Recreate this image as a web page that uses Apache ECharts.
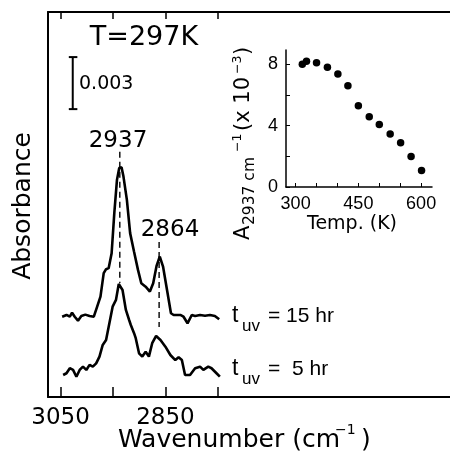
<!DOCTYPE html>
<html><head><meta charset="utf-8">
<script src="https://cdn.jsdelivr.net/npm/echarts@6/dist/echarts.min.js"></script>
<style>html,body{margin:0;padding:0;background:#fff}#c{width:450px;height:452px}</style>
</head><body><div id="c"></div>
<script>
// Main spectra: wavenumber (cm^-1) and absorbance (units of 0.001)
const wn15=[3047,3038.7,3032.4,3028.1,3023.0,3016.8,3010.4,3002.8,2994.7,2986.6,2980.2,2973.9,2967.7,2963.2,2958.3,2952.6,2947.5,2942.4,2938.1,2933.7,2930.0,2923.5,2917.3,2909.8,2902.3,2896.0,2887.7,2879.6,2873.3,2866.9,2860.7,2854.5,2846.9,2839.4,2834.3,2821.6,2815.4,2807.8,2799.7,2793.3,2783.9,2774.4,2765.0,2755.6,2747.4];
const abs15=[4.63,4.73,4.63,4.86,4.63,4.40,4.67,4.75,4.67,4.63,5.21,5.79,7.14,7.37,7.43,8.29,10.60,12.52,13.20,13.25,12.71,11.37,9.45,8.38,7.33,6.56,6.36,6.08,6.56,7.56,8.10,7.52,6.17,4.83,4.73,4.73,4.63,4.25,4.73,4.67,4.73,4.69,4.73,4.67,4.48];
const wn5=[3045.1,3038.7,3032.4,3026.2,3019.8,3013.6,3007.3,3000.9,2994.7,2988.5,2982.1,2975.8,2969.6,2963.2,2956.9,2950.7,2944.3,2939.0,2931.8,2925.4,2919.2,2916.0,2909.8,2906.6,2900.3,2894.1,2887.7,2881.5,2875.2,2867.7,2859.4,2850.0,2840.5,2831.1,2824.8,2818.6,2812.5,2803.0,2793.3,2783.9,2777.6,2768.2,2762.0,2752.5,2746.1];
const abs5=[1.27,1.37,1.66,1.56,1.17,1.56,1.75,1.56,1.85,1.75,1.94,2.33,3.00,3.29,4.25,5.21,5.60,6.52,6.17,5.02,4.44,4.15,3.68,3.39,2.52,2.33,2.61,2.33,3.10,3.52,3.29,2.90,2.42,2.13,2.29,2.13,1.27,1.27,1.66,1.75,1.56,1.75,1.66,1.37,1.17];
const mainTicks=[3050,2950,2850,2750];
const mainLabels=[3050,2850];
// peak marker lines [wavenumber, top, bottom]
const peakLines=[[2937,14.14,6.58],[2862,8.94,4.04]];
// scale bar (0.003 absorbance = 3 units)
const scaleBarX=3026.8, scaleBarLo=16.6, scaleBarHi=19.6, scaleSerif=[3034.3,3018.0];
// Inset
const temps=[316,326,350,376,401,425,450,476,500,526,551,576,601];
const a2937=[8.0,8.2,8.1,7.8,7.36,6.6,5.3,4.58,4.08,3.45,2.88,1.99,1.07];
const insetXTicks=[300,350,400,450,500,550,600];
const insetXLabels=[300,450,600];
const insetYTicks=[0,2,4,6,8];
const insetYLabels=[0,4,8];

const F='DejaVu Sans';
const N='"Liberation Sans Narrow","Liberation Sans",sans-serif';
function T(x,y,text,size,align,fam,rot){
  return {type:'text',x:x,y:y,rotation:rot||0,style:{text:text,fontSize:size,fontFamily:fam||F,fill:'#000',align:align||'left',verticalAlign:'middle',textAlign:align||'left',textVerticalAlign:'middle'}};
}
const zip=(a,b)=>a.map((v,i)=>[v,b[i]]);
const fmt=v=>String(v);
const blk='#000';
function seg(data,width,dash){
  return {type:'line',xAxisIndex:0,yAxisIndex:0,data:data,symbol:'none',silent:true,
          lineStyle:{color:blk,width:width,type:dash||'solid'},z:2};
}
const chart=echarts.init(document.getElementById('c'),null,{renderer:'canvas'});
const series=[
  {type:'line',xAxisIndex:0,yAxisIndex:0,data:zip(wn15,abs15),symbol:'none',lineStyle:{color:blk,width:2.6},z:3},
  {type:'line',xAxisIndex:0,yAxisIndex:0,data:zip(wn5,abs5),symbol:'none',lineStyle:{color:blk,width:2.6},z:3}
];
peakLines.forEach(p=>series.push(seg([[p[0],p[1]],[p[0],p[2]]],1.4,[6,4])));
series.push(seg([[scaleBarX,scaleBarLo],[scaleBarX,scaleBarHi]],2));
series.push(seg([[scaleSerif[0],scaleBarLo],[scaleSerif[1],scaleBarLo]],2));
series.push(seg([[scaleSerif[0],scaleBarHi],[scaleSerif[1],scaleBarHi]],2));
series.push({type:'scatter',xAxisIndex:2,yAxisIndex:1,data:zip(temps,a2937),symbol:'circle',symbolSize:7.5,itemStyle:{color:blk,opacity:1}});
const option={
  backgroundColor:'#fff',
  animation:false,
  grid:[{left:48,top:12,right:-4,bottom:55,show:false},{left:286,top:50,width:146,height:137,show:false}],
  xAxis:[
    {gridIndex:0,type:'value',inverse:true,min:2307,max:3074,position:'bottom',
     axisLine:{onZero:false,lineStyle:{color:blk,width:2}},
     axisTick:{inside:true,length:10,lineStyle:{color:blk,width:1.5},customValues:mainTicks},
     axisLabel:{customValues:mainLabels,formatter:fmt,fontSize:23,fontFamily:F,color:blk,margin:10},
     splitLine:{show:false}},
    {gridIndex:0,type:'value',inverse:true,min:2307,max:3074,position:'top',
     axisLine:{onZero:false,lineStyle:{color:blk,width:2}},
     axisTick:{inside:true,length:7,lineStyle:{color:blk,width:1.5},customValues:mainTicks},
     axisLabel:{show:false},splitLine:{show:false}},
    {gridIndex:1,type:'value',min:277,max:626,position:'bottom',
     axisLine:{onZero:false,lineStyle:{color:blk,width:1.5}},
     axisTick:{inside:true,length:4,lineStyle:{color:blk,width:1},customValues:insetXTicks},
     axisLabel:{customValues:insetXLabels,formatter:fmt,fontSize:18,fontFamily:N,color:blk,margin:8},
     splitLine:{show:false}}
  ],
  yAxis:[
    {gridIndex:0,type:'value',min:0,max:22.2,position:'left',
     axisLine:{show:true,onZero:false,lineStyle:{color:blk,width:2}},
     axisTick:{show:false},axisLabel:{show:false},splitLine:{show:false}},
    {gridIndex:1,type:'value',min:0,max:8.93,position:'left',
     axisLine:{show:true,onZero:false,lineStyle:{color:blk,width:1.5}},
     axisTick:{inside:true,length:4,lineStyle:{color:blk,width:1},customValues:insetYTicks},
     axisLabel:{customValues:insetYLabels,formatter:fmt,fontSize:18,fontFamily:N,color:blk,margin:8},
     splitLine:{show:false}}
  ],
  series:series,
  graphic:[
    // the reference frame is open on the right: mask the stray right edge
    {type:'rect',z:100,shape:{x:443,y:14,width:8,height:381},style:{fill:'#fff'},silent:true},
    T(144,38,'T=297K',27,'center'),
    T(79,84,'0.003',19,'left'),
    T(118,141,'2937',23,'center'),
    T(170,230,'2864',23,'center'),
    T(23,206,'Absorbance',25,'center',F,Math.PI/2),
    T(118,440,'Wavenumber (cm',25,'left'),
    T(335,430,'\u22121',14,'left'),
    T(361,440,')',25,'left'),
    T(232,316,'t',23,'left',N),
    T(242,326,'uv',17,'left',N),
    T(268,316,'= 15 hr',21,'left',N),
    T(232,369,'t',23,'left',N),
    T(242,379,'uv',17,'left',N),
    T(268,369,'=  5 hr',21,'left',N),
    T(352,224,'Temp. (K)',19,'center',F),
    {type:'group',x:244,y:240,rotation:Math.PI/2,children:[
      T(0,0,'A',21,'left',F),
      T(15,6,'2937 cm',15.5,'left',F),
      T(88,-6,'\u22121',12.5,'left',F),
      T(109,0,'(x 10',21,'left',F),
      T(166,-6,'\u22123',12.5,'left',F),
      T(185,0,')',21,'left',F)
    ]}
  ]
};
chart.setOption(option);
</script></body></html>
